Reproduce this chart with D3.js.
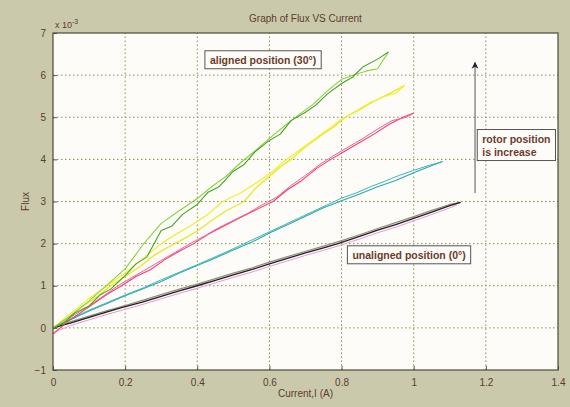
<!DOCTYPE html>
<html>
<head>
<meta charset="utf-8">
<script src="https://cdn.jsdelivr.net/npm/d3@7"></script>
<style>
  body { margin: 0; background: #cbc9ab; }
  svg { display: block; }
</style>
</head>
<body>
<script>
// x ticks / y ticks
const xTicks = [0, 0.2, 0.4, 0.6, 0.8, 1, 1.2, 1.4];
const yTicks = [-1, 0, 1, 2, 3, 4, 5, 6, 7];

// flux (x 10^-3) vs current (A), two branches per rotor position
const greenUp = [[0,0],[0.03,0.12],[0.06,0.35],[0.1,0.52],[0.13,0.78],[0.16,0.92],[0.2,1.24],[0.23,1.52],[0.26,1.68],[0.3,2.31],[0.33,2.42],[0.36,2.7],[0.4,2.93],[0.43,3.22],[0.46,3.35],[0.5,3.72],[0.53,3.88],[0.56,4.18],[0.6,4.45],[0.63,4.6],[0.66,4.92],[0.7,5.12],[0.73,5.3],[0.76,5.55],[0.8,5.8],[0.83,5.95],[0.86,6.2],[0.9,6.38],[0.93,6.55]];
const greenDown = [[0.93,6.55],[0.9,6.15],[0.87,6.1],[0.84,6.02],[0.8,5.9],[0.76,5.62],[0.72,5.3],[0.68,5.05],[0.64,4.78],[0.6,4.5],[0.56,4.2],[0.52,3.92],[0.48,3.6],[0.44,3.35],[0.4,3.07],[0.35,2.78],[0.3,2.48],[0.25,1.98],[0.2,1.4],[0.15,1.02],[0.1,0.64],[0.05,0.3],[0,0]];
const yellowUp = [[0,0],[0.04,0.22],[0.08,0.5],[0.12,0.72],[0.16,1.0],[0.2,1.22],[0.24,1.45],[0.28,1.72],[0.32,1.92],[0.36,2.1],[0.4,2.3],[0.44,2.55],[0.48,2.78],[0.53,3.0],[0.56,3.3],[0.6,3.6],[0.63,3.82],[0.66,4.0],[0.7,4.3],[0.74,4.55],[0.78,4.78],[0.81,5.0],[0.85,5.18],[0.89,5.38],[0.93,5.55],[0.975,5.76]];
const yellowDown = [[0.975,5.76],[0.95,5.57],[0.92,5.5],[0.88,5.35],[0.84,5.15],[0.8,4.95],[0.76,4.7],[0.72,4.45],[0.68,4.2],[0.64,3.95],[0.6,3.65],[0.56,3.42],[0.52,3.2],[0.47,3.0],[0.43,2.7],[0.38,2.42],[0.34,2.22],[0.3,2.0],[0.25,1.65],[0.2,1.3],[0.15,1.0],[0.1,0.7],[0.05,0.35],[0,0]];
const redUp = [[0,-0.15],[0.04,0.15],[0.08,0.38],[0.12,0.62],[0.15,0.8],[0.19,1.0],[0.23,1.22],[0.27,1.38],[0.31,1.62],[0.35,1.82],[0.39,2.0],[0.43,2.22],[0.47,2.4],[0.51,2.58],[0.55,2.75],[0.61,3.0],[0.65,3.28],[0.69,3.5],[0.73,3.78],[0.77,4.0],[0.81,4.2],[0.85,4.4],[0.89,4.6],[0.93,4.82],[0.97,5.0],[1.0,5.1]];
const redDown = [[1.0,5.1],[0.98,5.0],[0.94,4.92],[0.9,4.72],[0.86,4.5],[0.82,4.3],[0.78,4.1],[0.74,3.88],[0.7,3.62],[0.66,3.38],[0.62,3.1],[0.58,2.92],[0.54,2.72],[0.5,2.55],[0.46,2.38],[0.42,2.18],[0.38,2.0],[0.34,1.8],[0.3,1.6],[0.26,1.4],[0.22,1.2],[0.18,1.0],[0.14,0.76],[0.1,0.52],[0.05,0.26],[0,0]];
const cyanUp = [[0,0],[0.05,0.2],[0.1,0.4],[0.15,0.58],[0.2,0.76],[0.25,0.93],[0.3,1.1],[0.35,1.3],[0.4,1.48],[0.45,1.66],[0.5,1.85],[0.55,2.03],[0.6,2.25],[0.65,2.45],[0.7,2.65],[0.75,2.85],[0.8,3.02],[0.85,3.18],[0.9,3.35],[0.95,3.5],[1.0,3.68],[1.04,3.82],[1.08,3.95]];
const cyanDown = [[1.08,3.95],[1.04,3.85],[1.0,3.74],[0.96,3.62],[0.92,3.48],[0.88,3.35],[0.84,3.2],[0.8,3.08],[0.76,2.92],[0.72,2.76],[0.68,2.6],[0.64,2.44],[0.6,2.28],[0.56,2.12],[0.52,1.96],[0.48,1.8],[0.44,1.65],[0.4,1.5],[0.35,1.32],[0.3,1.14],[0.25,0.95],[0.2,0.78],[0.15,0.6],[0.1,0.42],[0.05,0.22],[0,0]];
const blackUp = [[0,0],[0.05,0.12],[0.1,0.25],[0.15,0.38],[0.19,0.48],[0.25,0.62],[0.3,0.75],[0.35,0.88],[0.4,1.0],[0.45,1.13],[0.5,1.26],[0.55,1.38],[0.6,1.52],[0.65,1.65],[0.7,1.78],[0.75,1.9],[0.79,2.0],[0.85,2.17],[0.9,2.32],[0.95,2.45],[1.0,2.6],[1.05,2.75],[1.1,2.9],[1.13,2.98]];
const grayDown = [[1.13,2.98],[1.1,2.93],[1.05,2.79],[1.0,2.64],[0.95,2.5],[0.9,2.36],[0.85,2.21],[0.8,2.07],[0.75,1.94],[0.7,1.82],[0.65,1.69],[0.6,1.56],[0.55,1.42],[0.5,1.3],[0.45,1.17],[0.4,1.04],[0.35,0.92],[0.3,0.79],[0.25,0.66],[0.2,0.53],[0.15,0.41],[0.1,0.28],[0.05,0.15],[0,0]];
const pinkLow = [[0,-0.12],[0.05,0.06],[0.1,0.19],[0.15,0.32],[0.2,0.44],[0.25,0.56],[0.3,0.69],[0.35,0.82],[0.4,0.94],[0.45,1.07],[0.5,1.2],[0.55,1.32],[0.6,1.46],[0.65,1.59],[0.7,1.72],[0.75,1.84],[0.8,1.97],[0.85,2.11],[0.9,2.26],[0.95,2.39],[1.0,2.54],[1.05,2.69],[1.1,2.85],[1.12,2.92]];

const series = [
  { pts: pinkLow, color: '#e69ad6', w: 1 },
  { pts: grayDown, color: '#8f8f7a', w: 1.2 },
  { pts: blackUp, color: '#1f1f1f', w: 1.3 },
  { pts: cyanUp, color: '#2aa9ad', w: 1.1 },
  { pts: cyanDown, color: '#3bb7b5', w: 1 },
  { pts: redUp, color: '#ef3e78', w: 1.1 },
  { pts: redDown, color: '#f0609a', w: 1 },
  { pts: yellowUp, color: '#e9e81c', w: 1.3 },
  { pts: yellowDown, color: '#f2ee2a', w: 1.2 },
  { pts: greenDown, color: '#8ad23e', w: 1.1 },
  { pts: greenUp, color: '#43a524', w: 1.1 }
];

const notes = [
  { lines: ['aligned position (30°)'], x: 0.435, y: 6.27 },
  { lines: ['unaligned position (0°)'], x: 0.83, y: 1.64 },
  { lines: ['rotor position', 'is increase'], x: 1.19, y: 4.4 }
];

const width = 570, height = 407;
const margin = { top: 33, right: 12, bottom: 37, left: 53 };
const textColor = '#5b3c2e';

const svg = d3.select('body').append('svg')
  .attr('width', width)
  .attr('height', height)
  .attr('font-family', 'Liberation Sans, Arial, sans-serif');

svg.append('rect')
  .attr('width', width).attr('height', height)
  .attr('fill', '#cbc9ab');

const x = d3.scaleLinear().domain([0, 1.4]).range([margin.left, width - margin.right]);
const y = d3.scaleLinear().domain([-1, 7]).range([height - margin.bottom, margin.top]);

// plot area
svg.append('rect')
  .attr('x', x(0)).attr('y', y(7))
  .attr('width', x(1.4) - x(0)).attr('height', y(-1) - y(7))
  .attr('fill', '#fdfcf8');

// grid
const grid = svg.append('g')
  .attr('stroke', '#8d8c55')
  .attr('stroke-width', 1)
  .attr('stroke-dasharray', '1.5,2.5');
grid.selectAll('.gx').data(xTicks.slice(1, -1)).join('line')
  .attr('x1', d => x(d)).attr('x2', d => x(d))
  .attr('y1', y(-1)).attr('y2', y(7));
grid.selectAll('.gy').data(yTicks.slice(1, -1)).join('line')
  .attr('x1', x(0)).attr('x2', x(1.4))
  .attr('y1', d => y(d)).attr('y2', d => y(d));

// curves
const line = d3.line().x(d => x(d[0])).y(d => y(d[1]));
svg.append('g')
  .attr('fill', 'none')
  .attr('stroke-linejoin', 'round')
  .selectAll('path')
  .data(series)
  .join('path')
  .attr('d', d => line(d.pts))
  .attr('stroke', d => d.color)
  .attr('stroke-width', d => d.w);

// axes
const xAxis = d3.axisBottom(x).tickValues(xTicks).tickFormat(d3.format('~g')).tickSizeInner(-4).tickSizeOuter(0).tickPadding(9);
const yAxis = d3.axisLeft(y).tickValues(yTicks).tickSizeInner(-4).tickSizeOuter(0).tickPadding(7);

svg.append('g')
  .attr('transform', `translate(0,${y(-1)})`)
  .call(xAxis)
  .call(g => g.select('.domain').remove())
  .call(g => g.selectAll('.tick line').attr('stroke', '#555'))
  .call(g => g.selectAll('.tick text').attr('fill', textColor).attr('font-size', 10));

svg.append('g')
  .attr('transform', `translate(${x(0)},0)`)
  .call(yAxis)
  .call(g => g.select('.domain').remove())
  .call(g => g.selectAll('.tick line').attr('stroke', '#555'))
  .call(g => g.selectAll('.tick text').attr('fill', textColor).attr('font-size', 10));

// frame
svg.append('rect')
  .attr('x', x(0)).attr('y', y(7))
  .attr('width', x(1.4) - x(0)).attr('height', y(-1) - y(7))
  .attr('fill', 'none')
  .attr('stroke', '#4a4a3a')
  .attr('stroke-width', 1.2);

// exponent
const expo = svg.append('text')
  .attr('x', x(0) + 2).attr('y', y(7) - 5)
  .attr('fill', textColor).attr('font-size', 9);
expo.append('tspan').text('x 10');
expo.append('tspan').attr('dy', -4).attr('font-size', 7).text('-3');

// title and labels
svg.append('text')
  .attr('x', (x(0) + x(1.4)) / 2).attr('y', 22)
  .attr('text-anchor', 'middle')
  .attr('fill', textColor).attr('font-size', 10)
  .text('Graph of Flux VS Current');

svg.append('text')
  .attr('x', (x(0) + x(1.4)) / 2).attr('y', 397)
  .attr('text-anchor', 'middle')
  .attr('fill', textColor).attr('font-size', 10)
  .text('Current,I (A)');

svg.append('text')
  .attr('transform', `translate(29,${(y(-1) + y(7)) / 2}) rotate(-90)`)
  .attr('text-anchor', 'middle')
  .attr('fill', textColor).attr('font-size', 10)
  .text('Flux');

// arrow
const defs = svg.append('defs');
defs.append('marker')
  .attr('id', 'arrowhead')
  .attr('viewBox', '0 0 10 10')
  .attr('refX', 9).attr('refY', 5)
  .attr('markerWidth', 7).attr('markerHeight', 9)
  .attr('orient', 'auto')
  .append('path')
  .attr('d', 'M0,0 L10,5 L0,10 L3,5 Z')
  .attr('fill', '#222');

svg.append('line')
  .attr('x1', x(1.17)).attr('x2', x(1.17))
  .attr('y1', y(3.2)).attr('y2', y(6.3))
  .attr('stroke', '#555')
  .attr('stroke-width', 1)
  .attr('marker-end', 'url(#arrowhead)');

// annotation boxes
notes.forEach(n => {
  const g = svg.append('g');
  const t = g.append('text')
    .attr('fill', '#6e3a2a')
    .attr('font-size', 10.5)
    .attr('font-weight', 'bold');
  n.lines.forEach((s, i) => {
    t.append('tspan').attr('x', x(n.x)).attr('y', y(n.y) + i * 13).text(s);
  });
  const b = t.node().getBBox();
  g.insert('rect', 'text')
    .attr('x', b.x - 5).attr('y', b.y - 3)
    .attr('width', b.width + 10).attr('height', b.height + 6)
    .attr('fill', '#fdfcf8')
    .attr('stroke', '#555')
    .attr('stroke-width', 1);
});
</script>
</body>
</html>
